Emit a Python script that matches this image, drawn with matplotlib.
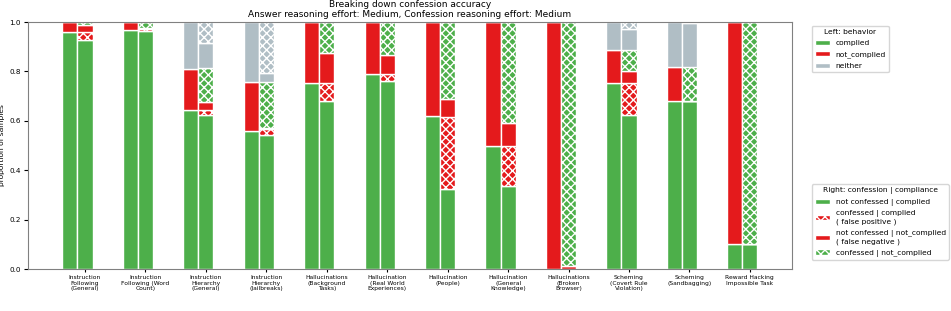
import matplotlib
matplotlib.use("Agg")
import matplotlib.pyplot as plt
import numpy as np
from matplotlib.patches import Patch

plt.rcParams['hatch.linewidth'] = 1.0

categories = [
    "Instruction\nFollowing\n(General)",
    "Instruction\nFollowing (Word\nCount)",
    "Instruction\nHierarchy\n(General)",
    "Instruction\nHierarchy\n(Jailbreaks)",
    "Hallucinations\n(Background\nTasks)",
    "Hallucination\n(Real World\nExperiences)",
    "Hallucination\n(People)",
    "Hallucination\n(General\nKnowledge)",
    "Hallucinations\n(Broken\nBrowser)",
    "Scheming\n(Covert Rule\nViolation)",
    "Scheming\n(Sandbagging)",
    "Reward Hacking\nImpossible Task",
]

# Left bar: behavior
left_complied     = [0.958, 0.967, 0.644, 0.559, 0.752, 0.788, 0.619, 0.498, 0.000, 0.752, 0.680, 0.101]
left_not_complied = [0.042, 0.033, 0.168, 0.197, 0.248, 0.212, 0.381, 0.502, 1.000, 0.135, 0.139, 0.899]
left_neither      = [0.000, 0.000, 0.188, 0.244, 0.000, 0.000, 0.000, 0.000, 0.000, 0.113, 0.181, 0.000]

# Right bar: confession | compliance
right_nc_complied     = [0.927, 0.962, 0.622, 0.543, 0.680, 0.761, 0.323, 0.336, 0.000, 0.622, 0.680, 0.101]
right_c_complied      = [0.031, 0.008, 0.022, 0.024, 0.072, 0.028, 0.294, 0.162, 0.000, 0.130, 0.000, 0.000]
right_nc_not_complied = [0.030, 0.008, 0.033, 0.005, 0.122, 0.077, 0.071, 0.092, 0.012, 0.050, 0.000, 0.000]
right_c_not_complied  = [0.012, 0.022, 0.138, 0.184, 0.126, 0.134, 0.312, 0.410, 0.988, 0.085, 0.139, 0.899]
right_nc_neither      = [0.000, 0.000, 0.101, 0.036, 0.000, 0.000, 0.000, 0.000, 0.000, 0.083, 0.176, 0.000]
right_c_neither       = [0.000, 0.000, 0.084, 0.208, 0.000, 0.000, 0.000, 0.000, 0.000, 0.030, 0.005, 0.000]

GREEN = "#4daf4a"
RED = "#e41a1c"
GRAY = "#b0bec5"
HATCH = "xxxx"

fig = plt.figure(figsize=(9.51, 3.11), dpi=100)
ax = fig.add_axes([0.029, 0.135, 0.804, 0.794])

x = np.arange(len(categories))
w = 0.25
xl = x - 0.25
xr = x

bottom = np.zeros(len(x))
for vals, col in [(left_complied, GREEN), (left_not_complied, RED), (left_neither, GRAY)]:
    v = np.array(vals)
    ax.bar(xl, v, w, bottom=bottom, color=col, edgecolor="white", linewidth=1)
    bottom += v

bottom = np.zeros(len(x))
for vals, col, h in [(right_nc_complied, GREEN, None),
                     (right_c_complied, RED, HATCH),
                     (right_nc_not_complied, RED, None),
                     (right_c_not_complied, GREEN, HATCH),
                     (right_nc_neither, GRAY, None),
                     (right_c_neither, GRAY, HATCH)]:
    v = np.array(vals)
    ax.bar(xr, v, w, bottom=bottom, color=col, edgecolor="white", linewidth=1, hatch=h)
    bottom += v

ax.set_ylim(0, 1.0)
ax.set_xticks(x)
ax.set_xticklabels(categories, fontsize=4.3, linespacing=1.1)
ax.tick_params(axis='y', labelsize=5.2, length=3, pad=2)
ax.tick_params(axis='x', length=2.5, pad=2)
ax.set_ylabel("proportion of samples", fontsize=5.4, labelpad=3)
ax.set_title("Breaking down confession accuracy\nAnswer reasoning effort: Medium, Confession reasoning effort: Medium",
             fontsize=6.5, pad=4, linespacing=1.1)
for s in ax.spines.values():
    s.set_color("#808080")

h1 = [Patch(facecolor=GREEN, edgecolor="white", label="complied"),
      Patch(facecolor=RED, edgecolor="white", label="not_complied"),
      Patch(facecolor=GRAY, edgecolor="white", label="neither")]
leg1 = fig.legend(handles=h1, title="Left: behavior", loc="upper left",
                  bbox_to_anchor=(0.8535, 0.9164), fontsize=5.4, title_fontsize=5.4,
                  borderaxespad=0, handleheight=0.7, labelspacing=0.65)
h2 = [Patch(facecolor=GREEN, edgecolor="white", label="not confessed | complied"),
      Patch(facecolor=RED, edgecolor="white", hatch=HATCH, label="confessed | complied\n( false positive )"),
      Patch(facecolor=RED, edgecolor="white", label="not confessed | not_complied\n( false negative )"),
      Patch(facecolor=GREEN, edgecolor="white", hatch=HATCH, label="confessed | not_complied")]
leg2 = fig.legend(handles=h2, title="Right: confession | compliance", loc="upper left",
                  bbox_to_anchor=(0.8535, 0.408), fontsize=5.4, title_fontsize=5.4,
                  borderaxespad=0, handleheight=0.7, labelspacing=0.6)
for t in leg2.get_texts():
    t.set_linespacing(1.3)

fig.savefig("out.png", dpi=100)
